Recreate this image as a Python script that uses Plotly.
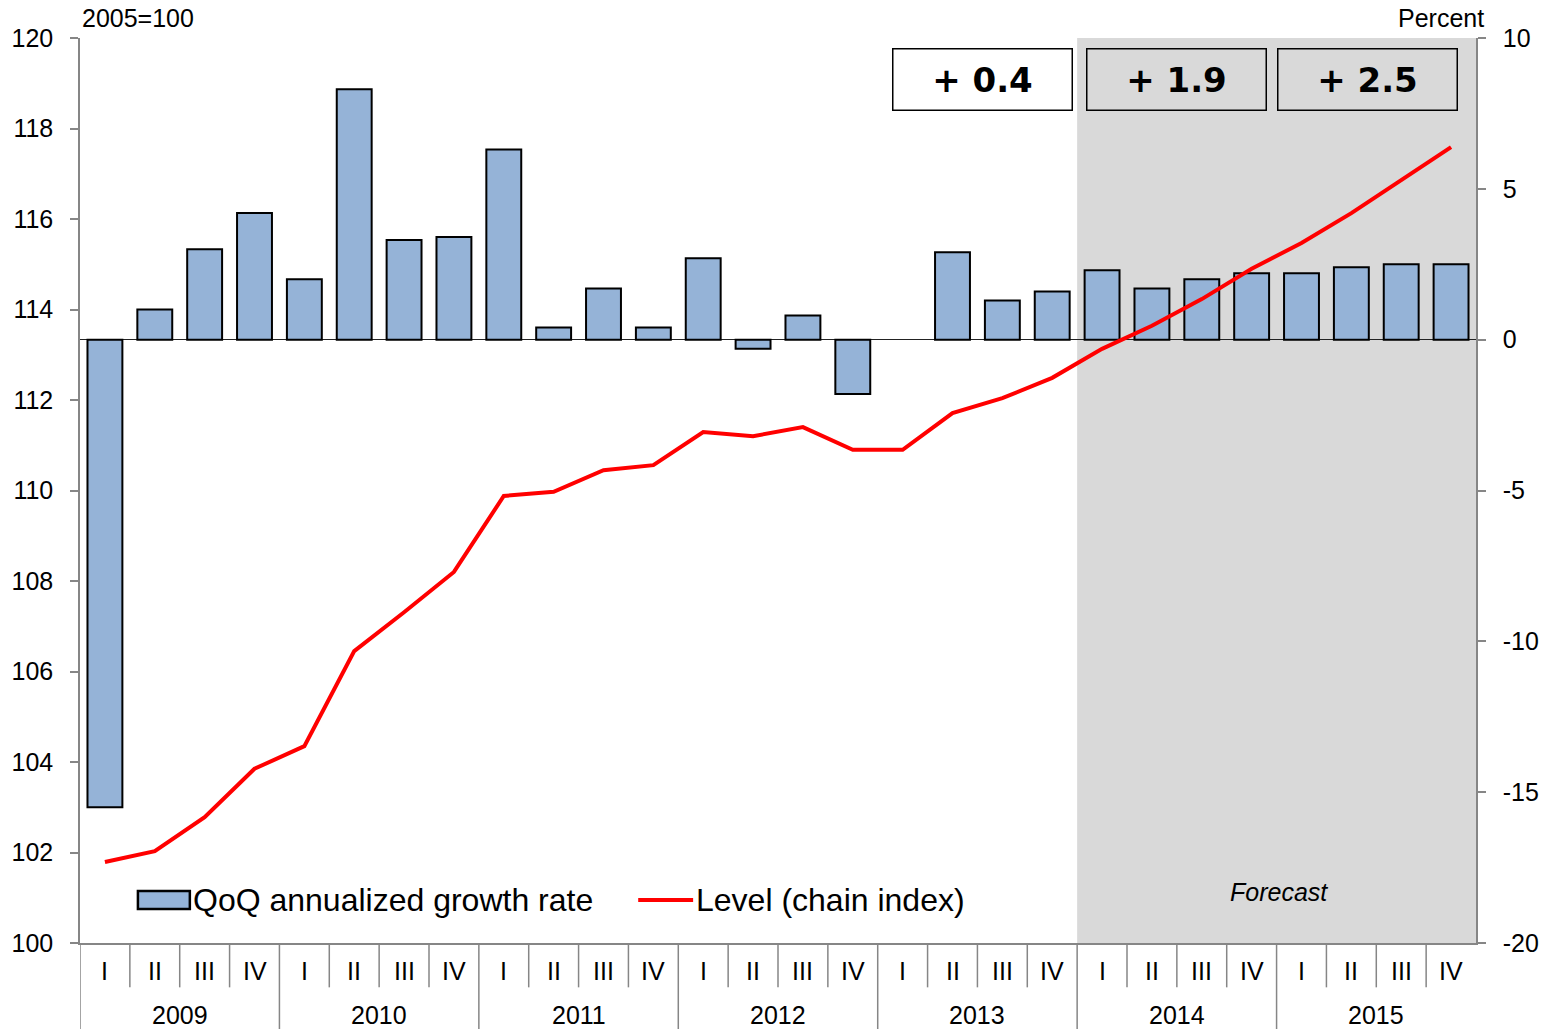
import numpy as np
import plotly.graph_objects as go

# Quarterly GDP: annualized q/q growth (percent) and chain-index level (2005=100)
years = ["2009", "2010", "2011", "2012", "2013", "2014", "2015"]
quarters = ["I", "II", "III", "IV"]
growth = [-15.5, 1.0, 3.0, 4.2,
          2.0, 8.3, 3.3, 3.4,
          6.3, 0.4, 1.7, 0.4,
          2.7, -0.3, 0.8, -1.8,
          0.0, 2.9, 1.3, 1.6,
          2.3, 1.7, 2.0, 2.2,
          2.2, 2.4, 2.5, 2.5]
level = [101.79, 102.03, 102.78, 103.85,
         104.35, 106.45, 107.31, 108.20,
         109.88, 109.97, 110.45, 110.56,
         111.29, 111.20, 111.40, 110.90,
         110.90, 111.71, 112.04, 112.49,
         113.13, 113.64, 114.23, 114.90,
         115.47, 116.13, 116.86, 117.59]
pct_ticks = [-20, -15, -10, -5, 0, 5, 10]
annual_labels = ["+ 0.4", "+ 1.9", "+ 2.5"]
annual_centers = [17.6, 21.5, 25.32]
forecast_start = 20  # first forecast quarter (2014 I)

FONT = "Liberation Sans, Arial, sans-serif"
GRAY = "#868686"
BAR_FILL = "#95b3d7"

n = len(growth)
x = np.arange(n)
quarter_labels = quarters * len(years)
# no outline on zero-height bars
outline_w = [0 if v == 0 else 2 for v in growth]

fig = go.Figure()
fig.add_trace(go.Bar(
    x=x, y=growth, yaxis="y", width=0.7,
    marker=dict(color=BAR_FILL, line=dict(color="black", width=outline_w)),
    name="QoQ annualized growth rate", showlegend=False,
))
fig.add_trace(go.Scatter(
    x=x, y=level, yaxis="y2", mode="lines",
    line=dict(color="#ff0000", width=4),
    name="Level (chain index)", showlegend=False,
))

shapes = []
# forecast shading
shapes.append(dict(type="rect", xref="x", yref="paper", x0=forecast_start - 0.5, x1=n - 0.5,
                   y0=0, y1=1, fillcolor="#d9d9d9", line=dict(width=0), layer="below"))
# category separators below the axis
for k in range(0, n):
    long_ = (k % 4 == 0)
    shapes.append(dict(type="line", xref="x", yref="paper", x0=k - 0.5, x1=k - 0.5,
                       y0=0, y1=-0.096 if long_ else -0.049,
                       line=dict(color=GRAY, width=1.5)))

annotations = []
for i, q in enumerate(quarter_labels):
    annotations.append(dict(x=i, y=0, xref="x", yref="paper", text=q, showarrow=False,
                            yanchor="middle", yshift=-28, font=dict(size=25, color="black", family=FONT)))
for j, yr in enumerate(years):
    annotations.append(dict(x=4 * j + 1.5, y=0, xref="x", yref="paper", text=yr, showarrow=False,
                            yanchor="middle", yshift=-72, font=dict(size=25, color="black", family=FONT)))

# annual growth boxes
for j, (lab, cx) in enumerate(zip(annual_labels, annual_centers)):
    annotations.append(dict(x=cx, y=1, xref="x", yref="paper", text="<b>" + lab + "</b>",
                            showarrow=False, yanchor="middle", yshift=-41,
                            width=178, height=60, borderpad=0,
                            bordercolor="black", borderwidth=1.5,
                            bgcolor="white" if j == 0 else "#d9d9d9",
                            font=dict(size=34, color="black", family="DejaVu Sans, Verdana, sans-serif")))


def px_x(p):
    return (p - 78) / 1398


def px_y(p):
    return (943 - p) / 905


annotations.append(dict(x=23.55, y=px_y(892), xref="x", yref="paper", text="<i>Forecast</i>",
                        showarrow=False, yanchor="middle",
                        font=dict(size=25, color="black", family=FONT)))
annotations.append(dict(x=0.0, y=1, xref="paper", yref="paper", text="2005=100", showarrow=False,
                        xanchor="left", yanchor="middle", yshift=20,
                        font=dict(size=25, color="black", family=FONT)))
annotations.append(dict(x=1.007, y=1, xref="paper", yref="paper", text="Percent", showarrow=False,
                        xanchor="right", yanchor="middle", yshift=20,
                        font=dict(size=25, color="black", family=FONT)))

# legend drawn inside the plot area
shapes.append(dict(type="rect", xref="paper", yref="paper", x0=px_x(136), x1=px_x(188),
                   y0=px_y(909), y1=px_y(891), fillcolor=BAR_FILL, line=dict(color="black", width=2.5)))
shapes.append(dict(type="line", xref="paper", yref="paper", x0=px_x(637), x1=px_x(692),
                   y0=px_y(900), y1=px_y(900), line=dict(color="#ff0000", width=4)))
annotations.append(dict(x=px_x(189), y=px_y(900), xref="paper", yref="paper",
                        text="QoQ annualized growth rate", showarrow=False, xanchor="left",
                        yanchor="middle", font=dict(size=32, color="black", family=FONT)))
annotations.append(dict(x=px_x(693), y=px_y(900), xref="paper", yref="paper",
                        text="Level (chain index)", showarrow=False, xanchor="left",
                        yanchor="middle", font=dict(size=32, color="black", family=FONT)))

fig.update_layout(
    width=1554, height=1029,
    margin=dict(l=78, r=78, t=38, b=86),
    paper_bgcolor="white", plot_bgcolor="white",
    font=dict(family=FONT, size=25, color="black"),
    bargap=0.3,
    xaxis=dict(range=[-0.5, n - 0.5], showticklabels=False, ticks="", showgrid=False,
               zeroline=False, showline=True, linecolor=GRAY, linewidth=1.5),
    yaxis=dict(side="right", range=[-20, 10], tickvals=pct_ticks,
               ticktext=[str(v) for v in pct_ticks], showgrid=False,
               zeroline=True, zerolinecolor="#222222", zerolinewidth=1,
               showline=True, linecolor=GRAY, linewidth=1.5,
               ticks="outside", ticklen=8, tickcolor=GRAY, tickwidth=1.5,
               ticklabelstandoff=12, tickfont=dict(size=25)),
    yaxis2=dict(side="left", overlaying="y", range=[100, 120], dtick=2, showgrid=False,
                zeroline=False, showline=True, linecolor=GRAY, linewidth=1.5,
                ticks="outside", ticklen=8, tickcolor=GRAY, tickwidth=1.5,
                ticklabelstandoff=12, tickfont=dict(size=25)),
    shapes=shapes,
    annotations=annotations,
    showlegend=False,
)

fig.write_html("out.html")
